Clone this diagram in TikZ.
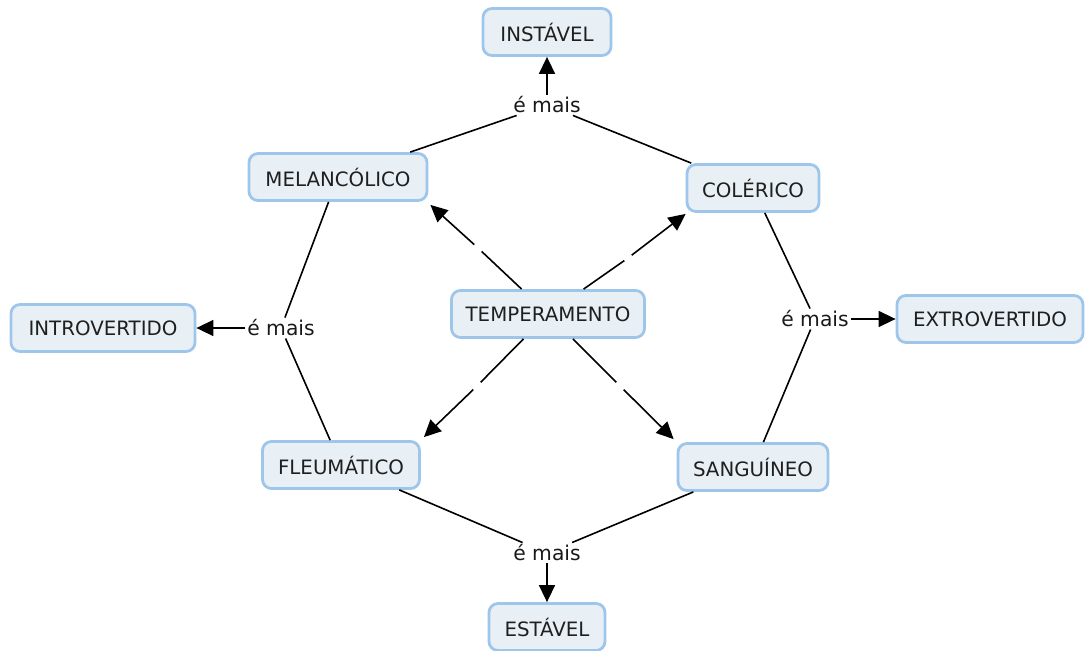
\documentclass[tikz,border=0pt]{standalone}
\usepackage{fontspec}
\setmainfont{DejaVu Sans}
\usetikzlibrary{arrows.meta}
\definecolor{boxfill}{HTML}{E9F0F5}
\definecolor{boxline}{HTML}{9EC5EA}
\begin{document}
\begin{tikzpicture}[x=1pt,y=-1pt,
  concept/.style={draw=boxline, line width=2.8pt, fill=boxfill, rounded corners=9pt,
    minimum height=47pt, inner xsep=10pt, font=\fontsize{19.8}{22}\selectfont, text=black!88},
  lbl/.style={inner sep=2pt, font=\fontsize{20.3}{22}\selectfont, text=black!90},
  gapnode/.style={inner sep=0pt, minimum size=7pt},
  link/.style={line width=1.6pt, black},
  arr/.style={link, -{Triangle[length=17pt,width=16pt]}}]
\useasboundingbox (0,0) rectangle (1088,651);

\node[concept, minimum width=128pt] (inst) at (547,32) {INSTÁVEL};
\node[concept, minimum width=178pt] (mel) at (338,177) {MELANCÓLICO};
\node[concept, minimum width=132pt] (col) at (753,188) {COLÉRICO};
\node[concept, minimum width=193pt] (temp) at (548,314) {TEMPERAMENTO};
\node[concept, minimum width=184pt] (intro) at (103,328) {INTROVERTIDO};
\node[concept, minimum width=186pt] (extro) at (990,319) {EXTROVERTIDO};
\node[concept, minimum width=157pt] (fleu) at (341,465) {FLEUMÁTICO};
\node[concept, minimum width=150pt] (sang) at (753,467) {SANGUÍNEO};
\node[concept, minimum width=116pt] (est) at (547,627) {ESTÁVEL};

\node[lbl] (ltop) at (547,105) {é mais};
\node[lbl] (lleft) at (281,328) {é mais};
\node[lbl] (lright) at (815,319) {é mais};
\node[lbl] (lbot) at (547,553) {é mais};

% upper link
\draw[link] (mel) -- (ltop);
\draw[link] (col) -- (ltop);
\draw[arr] (ltop) -- (inst);
% left link
\draw[link] (mel) -- (lleft);
\draw[link] (fleu) -- (lleft);
\draw[arr] (lleft) -- (intro);
% right link
\draw[link] (col) -- (lright);
\draw[link] (sang) -- (lright);
\draw[arr] (lright) -- (extro);
% bottom link
\draw[link] (fleu) -- (lbot);
\draw[link] (sang) -- (lbot);
\draw[arr] (lbot) -- (est);

% temperamento links with small gaps
\node[gapnode] (g1) at (478,248) {};
\node[gapnode] (g2) at (628,258) {};
\node[gapnode] (g3) at (477,386) {};
\node[gapnode] (g4) at (620,386) {};
\draw[link] (temp) -- (g1);
\draw[arr] (g1) -- ([shift={(2pt,-3pt)}]mel.south east);
\draw[link] (temp) -- (g2);
\draw[arr] (g2) -- ([shift={(0pt,-1pt)}]col.south west);
\draw[link] (temp) -- (g3);
\draw[arr] (g3) -- ([shift={(3pt,3pt)}]fleu.north east);
\draw[link] (temp) -- (g4);
\draw[arr] (g4) -- ([shift={(-3pt,3pt)}]sang.north west);
\end{tikzpicture}
\end{document}
